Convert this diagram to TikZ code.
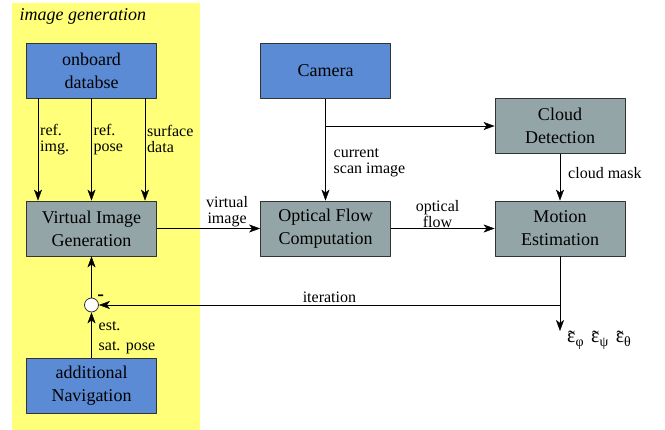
\documentclass[tikz,border=0pt]{standalone}
\usepackage{amsmath,amssymb}
\usepackage{fontspec}
\setmainfont{Liberation Serif}
\usepackage{tikz}
\usetikzlibrary{arrows.meta}
\definecolor{genyellow}{HTML}{FFFF7A}
\definecolor{srcblue}{HTML}{5B8BD4}
\definecolor{procgray}{HTML}{94A5A8}
\newcommand{\epsest}[1]{\ooalign{ε\cr\hidewidth\raisebox{-0.08em}{˜}\hidewidth\cr}\textsubscript{#1}}
\tikzset{
  every picture/.style={line join=round, >={Stealth[length=11pt,width=8pt,inset=3pt]}},
  box/.style={draw=black!80, line width=0.8pt, minimum width=130pt, minimum height=55pt,
    align=center, font=\fontsize{18}{23}\selectfont},
  srcbox/.style={box, fill=srcblue},
  procbox/.style={box, fill=procgray},
  lbl/.style={align=left, font=\fontsize{16}{16}\selectfont, inner sep=2pt},
}

\begin{document}
\begin{tikzpicture}[x=1pt,y=-1pt]
\useasboundingbox (0,0) rectangle (665,430);
\fill[genyellow] (12,3) rectangle (200,430);
\node[anchor=west, font=\fontsize{18}{20}\selectfont\itshape] (title) at (16,16) {image generation};

\node[srcbox] (db) at (91.5,70.5) {onboard\\databse};
\node[procbox] (vig) at (91.5,228.5) {Virtual Image\\Generation};
\node[srcbox] (nav) at (91.5,386) {additional\\Navigation};
\node[draw=black!80, line width=0.8pt, fill=white, circle, minimum size=14pt, inner sep=0pt] (sum) at (91.5,305) {};
\node[srcbox] (cam) at (325.5,71) {Camera};
\node[procbox] (cloud) at (560,126) {Cloud\\Detection};
\node[procbox] (ofc) at (325.5,228.5) {Optical Flow\\Computation};
\node[procbox] (me) at (560,228.5) {Motion\\Estimation};
\coordinate (out) at (560,331);

\draw[->] ([xshift=-53.5pt]db.south)--([xshift=-53.5pt]vig.north) node[lbl,right,pos=0.4]{ref.\\img.};
\draw[->] (db.south)--(vig.north) node[lbl,right,pos=0.4]{ref.\\pose};
\draw[->] ([xshift=53.5pt]db.south)--([xshift=53.5pt]vig.north) node[lbl,right,pos=0.4]{surface\\data};
\draw[->] (nav)--(sum) node[lbl,right,pos=0.45,xshift=5pt,font=\fontsize{16}{20}\selectfont]{est.\\sat. pose};
\draw[->] (sum)--(vig);
\node[font=\fontsize{20}{20}\selectfont\bfseries, inner sep=0pt] (minus) at ([xshift=4pt,yshift=2pt]sum.north east) {-};

\draw[->] (vig)--(ofc) node[lbl,above,pos=0.68,align=center,inner sep=1pt]{virtual\\image};
\draw[->] (cam)--(ofc) node[lbl,right,pos=0.63,xshift=6pt]{current\\scan image};
\draw[->] (cam.south |- cloud.west)--(cloud.west);
\draw[->] (cloud)--(me) node[lbl,right,pos=0.4,xshift=6pt]{cloud mask};
\draw[->] (ofc)--(me) node[lbl,above,pos=0.45,align=center,inner sep=1pt]{optical\\flow};
\draw[->] (me)--(out);
\draw[->] (me.south |- sum)--(sum) node[lbl,above,pos=0.5]{iteration};
\node[anchor=base west, font=\fontsize{20}{22}\selectfont, inner sep=0pt] (eps) at (567,343)
  {\epsest{φ}\hspace{7pt}\epsest{ψ}\hspace{7pt}\epsest{θ}};
\end{tikzpicture}
\end{document}
